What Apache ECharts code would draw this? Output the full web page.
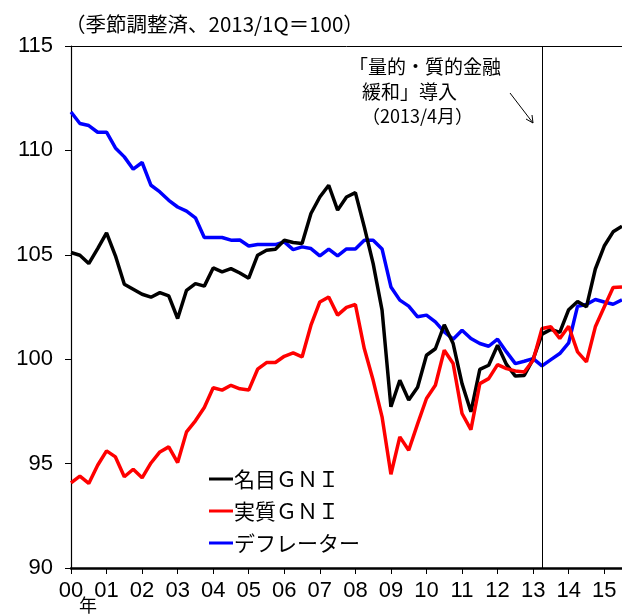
<!DOCTYPE html>
<html>
<head>
<meta charset="utf-8">
<script src="https://cdn.jsdelivr.net/npm/echarts@6/dist/echarts.min.js"></script>
<style>
  html, body { margin: 0; padding: 0; background: #fff; }
  #chart { width: 622px; height: 614px; }
</style>
</head>
<body>
<div id="chart"></div>
<script>
// 2000/1Q .. 2015/3Q
const quarters = []
for (let y = 2000; y <= 2015; y++) {
  for (let q = 1; q <= 4; q++) {
    if (y === 2015 && q > 3) break
    quarters.push(y + 'Q' + q)
  }
}

const nominalGNI = [
  105.11, 104.98, 104.58, 105.30, 106.05, 104.95, 103.59, 103.35, 103.11, 102.97,
  103.19, 103.03, 101.95, 103.30, 103.62, 103.50, 104.37, 104.18, 104.34, 104.13,
  103.88, 104.98, 105.22, 105.27, 105.70, 105.59, 105.54, 106.98, 107.77, 108.33,
  107.14, 107.77, 107.98, 106.34, 104.58, 102.35, 97.72, 98.99, 98.05, 98.66,
  100.19, 100.50, 101.65, 100.75, 98.83, 97.48, 99.51, 99.71, 100.67, 99.75,
  99.19, 99.22, 100.00, 101.20, 101.43, 101.28, 102.37, 102.76, 102.51, 104.32,
  105.42, 106.10, 106.37
]

const realGNI = [
  94.08, 94.40, 94.05, 94.92, 95.61, 95.32, 94.37, 94.73, 94.32, 95.03,
  95.56, 95.80, 95.05, 96.52, 97.05, 97.69, 98.63, 98.52, 98.75, 98.58,
  98.52, 99.52, 99.84, 99.84, 100.14, 100.30, 100.11, 101.63, 102.74, 102.98,
  102.11, 102.48, 102.62, 100.51, 98.99, 97.24, 94.49, 96.28, 95.64, 96.90,
  98.12, 98.75, 100.43, 99.79, 97.40, 96.63, 98.83, 99.07, 99.74, 99.55,
  99.44, 99.39, 99.95, 101.47, 101.55, 100.99, 101.58, 100.35, 99.87, 101.55,
  102.50, 103.43, 103.46
]

const deflator = [
  111.84, 111.29, 111.19, 110.87, 110.87, 110.12, 109.69, 109.10, 109.42, 108.33,
  108.01, 107.61, 107.29, 107.09, 106.77, 105.83, 105.83, 105.83, 105.70, 105.71,
  105.42, 105.49, 105.49, 105.49, 105.62, 105.25, 105.38, 105.30, 104.95, 105.27,
  104.95, 105.28, 105.28, 105.70, 105.70, 105.28, 103.46, 102.83, 102.54, 102.03,
  102.11, 101.79, 101.31, 100.96, 101.39, 100.99, 100.75, 100.62, 100.96, 100.35,
  99.79, 99.90, 100.03, 99.68, 99.98, 100.27, 100.78, 102.54, 102.62, 102.86,
  102.74, 102.63, 102.84
]

const policyQuarter = '2013Q2'
const yTicks = [90, 95, 100, 105, 110, 115]

const numFont = "'Liberation Sans Narrow', 'Liberation Sans', sans-serif"
const jpFont = "'Noto Sans CJK JP', sans-serif"

const chart = echarts.init(document.getElementById('chart'))

chart.setOption({
  animation: false,
  title: {
    text: '（季節調整済、2013/1Q＝100）',
    left: 60,
    top: 9,
    textStyle: { fontFamily: jpFont, fontSize: 20.5, fontWeight: 'normal', color: '#000' }
  },
  grid: { left: 71, right: 0, top: 46, bottom: 46 },
  legend: {
    orient: 'vertical',
    left: 204,
    top: 462,
    icon: 'rect',
    itemWidth: 24,
    itemHeight: 3,
    itemGap: 8,
    data: ['名目ＧＮＩ', '実質ＧＮＩ', 'デフレーター'],
    textStyle: { fontFamily: jpFont, fontSize: 21, lineHeight: 24, color: '#000', padding: [0, 0, 0, -4] }
  },
  xAxis: [
    {
      type: 'category',
      data: quarters,
      boundaryGap: false,
      axisLine: { lineStyle: { color: '#000', width: 2.5 } },
      axisTick: { interval: 3, length: 6, lineStyle: { color: '#000' } },
      axisLabel: {
        interval: 3,
        margin: 12,
        color: '#000',
        fontFamily: numFont,
        fontSize: 22,
        formatter: (v) => v.slice(2, 4)
      },
      splitLine: { show: false }
    },
    {
      type: 'category',
      data: quarters,
      position: 'top',
      boundaryGap: false,
      axisLine: { lineStyle: { color: '#000', width: 1 } },
      axisTick: { show: false },
      axisLabel: { show: false }
    }
  ],
  yAxis: {
    type: 'value',
    min: yTicks[0],
    max: yTicks[yTicks.length - 1],
    interval: 5,
    axisLine: { show: true, lineStyle: { color: '#000', width: 1.2 } },
    axisTick: { show: true, length: 6, lineStyle: { color: '#000' } },
    axisLabel: { margin: 18, color: '#000', fontFamily: numFont, fontSize: 22 },
    splitLine: { show: false }
  },
  series: [
    {
      name: 'デフレーター',
      type: 'line',
      data: deflator,
      symbol: 'none',
      lineStyle: { color: '#0000ff', width: 3.5 },
      itemStyle: { color: '#0000ff' }
    },
    {
      name: '名目ＧＮＩ',
      type: 'line',
      data: nominalGNI,
      symbol: 'none',
      lineStyle: { color: '#000', width: 3.5 },
      itemStyle: { color: '#000' },
      markLine: {
        silent: true,
        symbol: 'none',
        label: { show: false },
        lineStyle: { color: '#000', width: 1, type: 'solid' },
        data: [{ xAxis: policyQuarter }]
      }
    },
    {
      name: '実質ＧＮＩ',
      type: 'line',
      data: realGNI,
      symbol: 'none',
      lineStyle: { color: '#ff0000', width: 3.5 },
      itemStyle: { color: '#ff0000' }
    }
  ],
  graphic: [
    {
      type: 'text', left: 349, top: 57,
      style: { text: '「量的・質的金融', font: '19px ' + jpFont, fill: '#000' }
    },
    {
      type: 'text', left: 362, top: 82,
      style: { text: '緩和」導入', font: '19px ' + jpFont, fill: '#000' }
    },
    {
      type: 'text', left: 362, top: 107,
      style: { text: '（2013/4月）', font: '18px ' + jpFont, fill: '#000' }
    },
    {
      type: 'line',
      shape: { x1: 510, y1: 93, x2: 533, y2: 123 },
      style: { stroke: '#000', lineWidth: 1 }
    },
    {
      type: 'polyline',
      shape: { points: [[526, 119], [533, 123], [532, 115]] },
      style: { stroke: '#000', lineWidth: 1, fill: null }
    },
    {
      type: 'text', left: 79, top: 596,
      style: { text: '年', font: '18px ' + jpFont, fill: '#000' }
    }
  ]
})
</script>
</body>
</html>
